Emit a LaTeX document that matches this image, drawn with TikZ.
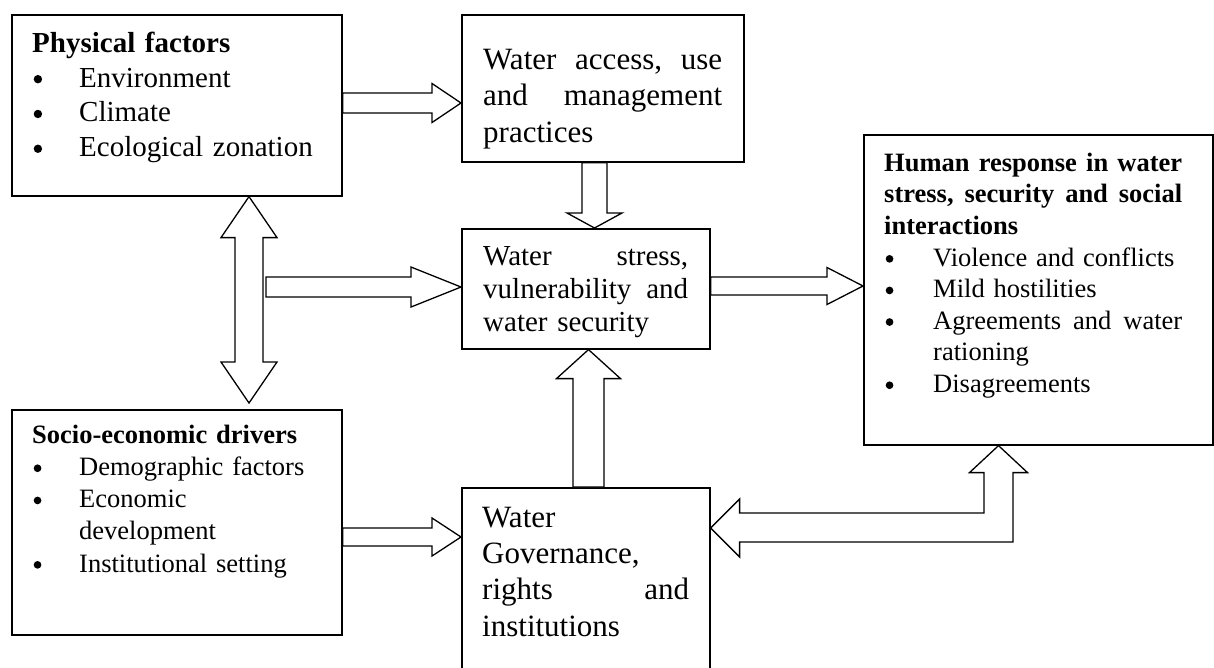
\documentclass[tikz,border=0pt]{standalone}
\usepackage{fontspec}
\setmainfont{Liberation Serif}
\usetikzlibrary{calc}

\newcommand{\bul}[1]{\makebox[#1][l]{\hspace{1.5pt}\tikz[baseline=-0.27em]\fill (0,0) circle (0.145em);}}
\newcommand{\fl}{\rule{0pt}{0.8em}}

% hollow block arrows: start, tip, shaft half-width, head half-width, head length
\newcommand{\blkright}[5]{%
  \draw[blk] let \p1=#1, \p2=#2 in
    (\x1,\y2+#3) -- (\x2-#5,\y2+#3) -- (\x2-#5,\y2+#4) -- (\x2,\y2)
    -- (\x2-#5,\y2-#4) -- (\x2-#5,\y2-#3) -- (\x1,\y2-#3) -- cycle;}
\newcommand{\blkdown}[5]{%
  \draw[blk] let \p1=#1, \p2=#2 in
    (\x2-#3,\y1) -- (\x2-#3,\y2+#5) -- (\x2-#4,\y2+#5) -- (\x2,\y2)
    -- (\x2+#4,\y2+#5) -- (\x2+#3,\y2+#5) -- (\x2+#3,\y1) -- cycle;}
\newcommand{\blkup}[5]{%
  \draw[blk] let \p1=#1, \p2=#2 in
    (\x2-#3,\y1) -- (\x2-#3,\y2-#5) -- (\x2-#4,\y2-#5) -- (\x2,\y2)
    -- (\x2+#4,\y2-#5) -- (\x2+#3,\y2-#5) -- (\x2+#3,\y1) -- cycle;}

\begin{document}
\begin{tikzpicture}[
    x=1pt, y=-1pt,
    box/.style={rectangle, draw, line width=1.6pt, anchor=north west, inner sep=0pt},
    txt/.style={anchor=north west, inner sep=0pt, align=left},
    blk/.style={draw, line width=1.3pt, fill=white, line join=miter}
]
\useasboundingbox (0,0) rectangle (1214,667);
\clip (0,0) rectangle (1214,667);

% boxes
\node[box, minimum width=330pt, minimum height=181pt] (phys) at (11,14) {};
\node[box, minimum width=282pt, minimum height=147pt] (access) at (461,14) {};
\node[box, minimum width=248pt, minimum height=120pt] (stress) at (461,228) {};
\node[box, minimum width=349pt, minimum height=310pt] (human) at (863,134) {};
\node[box, minimum width=330pt, minimum height=225pt] (socio) at (11,409) {};
\node[box, minimum width=248pt, minimum height=200pt] (gov) at (461,487) {};

% texts
\node[txt, text width=290pt, font=\fontsize{29}{34.8}\selectfont] (phystext) at (32,28.8)
  {\fl\textbf{Physical factors}\\
   \bul{47pt}Environment\\
   \bul{47pt}Climate\\
   \bul{47pt}Ecological zonation};
\node[txt, text width=239pt, font=\fontsize{31}{36.5}\selectfont] (accesstext) at (483,44.2)
  {\fl Water\hfill access,\hfill use\\
   and\hfill management\\
   practices};
\node[txt, text width=205pt, font=\fontsize{29}{33}\selectfont] (stresstext) at (483,241.8)
  {\fl Water\hfill stress,\\
   vulnerability\hfill and\\
   water security};
\node[txt, text width=298pt, font=\fontsize{26.5}{31.6}\selectfont] (humantext) at (884,149.8)
  {\fl\textbf{Human\hfill response\hfill in\hfill water}\\
   \textbf{stress,\hfill security\hfill and\hfill social}\\
   \textbf{interactions}\\
   \bul{49pt}Violence and conflicts\\
   \bul{49pt}Mild hostilities\\
   \bul{49pt}Agreements\hfill and\hfill water\\
   \hspace*{49pt}rationing\\
   \bul{49pt}Disagreements};
\node[txt, text width=290pt, font=\fontsize{26.5}{32.2}\selectfont] (sociotext) at (32,421.8)
  {\fl\textbf{Socio-economic drivers}\\
   \bul{47pt}Demographic factors\\
   \bul{47pt}Economic\\
   \hspace*{47pt}development\\
   \bul{47pt}Institutional setting};
\node[txt, text width=207pt, font=\fontsize{31}{36.3}\selectfont] (govtext) at (482,502.2)
  {\fl Water\\
   Governance,\\
   rights\hfill and\\
   institutions};

% arrows
\coordinate (split) at (266,287);
\blkright{(phys.east |- 0,103)}{(access.west |- 0,103)}{10pt}{19.5pt}{29pt}
\blkdown{(access.south -| 594.5,0)}{(stress.north -| 594.5,0)}{12.5pt}{27.5pt}{15pt}
\blkright{(split)}{(stress.west |- 0,287)}{10pt}{20pt}{50pt}
\blkright{(stress.east |- 0,286)}{(human.west |- 0,286)}{9pt}{18.5pt}{36pt}
\blkup{(gov.north -| 588.5,0)}{(stress.south -| 588.5,0)}{15.5pt}{32pt}{29pt}
\blkright{(socio.east |- 0,537)}{(gov.west |- 0,537)}{9pt}{19pt}{29pt}

\draw[blk] let \p1=(phys.south -| 249,0), \p2=(socio.north -| 249,0) in
  (\x1,\y1) -- (\x1+28pt,\y1-41pt) -- (\x1+14pt,\y1-41pt) -- (\x1+14pt,\y2+47pt)
  -- (\x1+28pt,\y2+47pt) -- (\x1,\y2+6pt) -- (\x1-28pt,\y2+47pt) -- (\x1-14pt,\y2+47pt)
  -- (\x1-14pt,\y1-41pt) -- (\x1-28pt,\y1-41pt) -- cycle;

\draw[blk] let \p1=(gov.east |- 0,528), \p2=(human.south -| 998.5,0) in
  (\x1,\y1) -- (\x1+29pt,\y1+29pt) -- (\x1+29pt,\y1+15pt) -- (\x2-14.5pt,\y1+15pt)
  -- (\x2-14.5pt,\y2-27pt) -- (\x2-29pt,\y2-27pt) -- (\x2,\y2) -- (\x2+29pt,\y2-27pt)
  -- (\x2+14.5pt,\y2-27pt) -- (\x2+14.5pt,\y1-14pt) -- (\x1+29pt,\y1-14pt)
  -- (\x1+29pt,\y1-29pt) -- cycle;
\end{tikzpicture}
\end{document}
